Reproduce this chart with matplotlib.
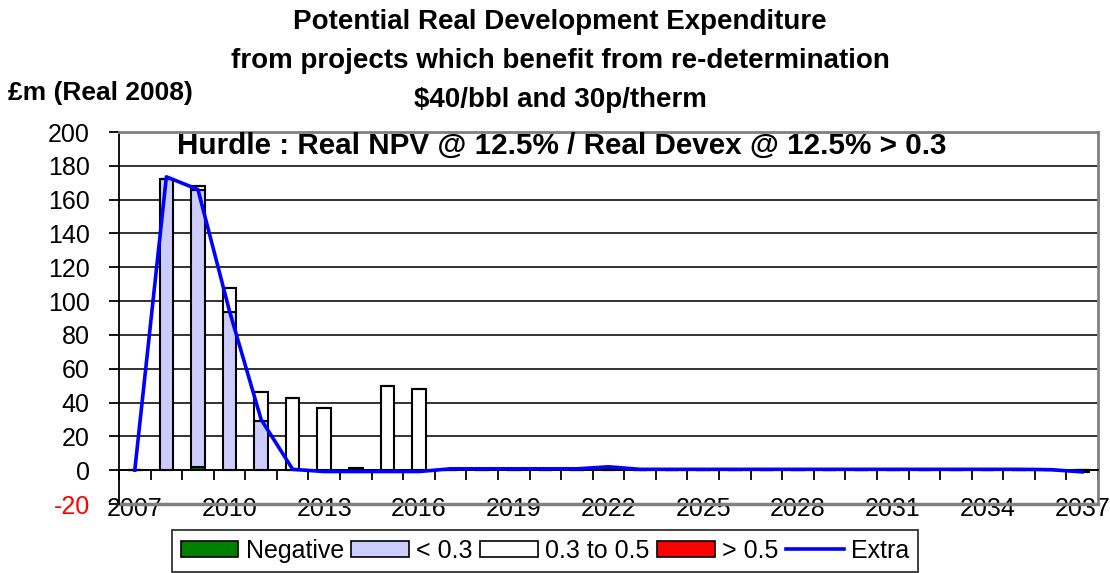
import numpy as np
import matplotlib
matplotlib.use("Agg")
import matplotlib.pyplot as plt
from matplotlib.patches import Patch
from matplotlib.lines import Line2D

plt.rcParams["font.family"] = ["Liberation Sans", "DejaVu Sans"]
plt.rcParams["axes.unicode_minus"] = False

# data (GBP m, real 2008)
years = list(range(2007, 2038))
negative = [0, 0, 2, 0, 0, 0, 0, 0, 0, 0,
            0, 0, 0, 0, 0, 0, 0, 0, 0, 0,
            0, 0, 0, 0, 0, 0, 0, 0, 0, 0, 0]
below_03 = [0, 172.5, 163.5, 93.3, 29.2, 0, 0, 0, 0, 0,
            0, 0, 0, 0, 0, 0, 0, 0, 0, 0,
            0, 0, 0, 0, 0, 0, 0, 0, 0, 0, 0]
mid_03_05 = [0, 0, 2.7, 14.4, 17, 42.4, 36.5, 1.2, 49.7, 48.3,
             0, 0, 0, 0, 0, 1.0, 0, 0, 0, 0,
             0, 0, 0, 0, 0, 0, 0, 0, 0, 0, -1]
above_05 = [0] * 31
extra = [0, 173.5, 166, 94, 30, 0.5, -0.8, -0.8, -0.8, -0.8,
         0.8, 0.8, 0.8, 0.8, 0.8, 2.0, 0.5, 0.5, 0.5, 0.5,
         0.5, 0.5, 0.5, 0.5, 0.5, 0.5, 0.5, 0.5, 0.5, 0.3, -1]
series_names = ["Negative", "< 0.3", "0.3 to 0.5", "> 0.5"]
series_colors = ["#008000", "#CCCCFF", "#FFFFFF", "#FF0000"]

fig = plt.figure(figsize=(11.1, 5.73), dpi=100)
ax = fig.add_axes([119 / 1110, 1 - 504 / 573, (1098 - 119) / 1110, (504 - 132) / 573])

x = np.arange(len(years))
bottom = np.zeros(len(years))
for vals, col in zip([negative, below_03, mid_03_05, above_05], series_colors):
    vals = np.array(vals, dtype=float)
    ax.bar(x, vals, width=0.43, bottom=np.where(vals >= 0, bottom, 0),
           color=col, edgecolor="black", linewidth=1.5, zorder=2)
    bottom = bottom + np.clip(vals, 0, None)

ax.plot(x, extra, color="#0000FF", lw=2.6, zorder=4)

ax.set_xlim(-0.5, len(years) - 0.5)
ax.set_ylim(-20, 200)
ax.set_yticks(range(-20, 201, 20))
ax.tick_params(axis="y", labelsize=18, length=7, width=1.3, direction="out", pad=14)
ax.get_yticklabels()[0].set_color("red")
ax.yaxis.grid(True, color="#222222", lw=1.3, zorder=0)
ax.set_axisbelow(True)

# category axis crosses at zero
ax.spines["bottom"].set_position(("data", 0))
ax.spines["bottom"].set_linewidth(1.3)
ax.set_xticks(x[::3])
ax.set_xticklabels([str(y) for y in years[::3]])
ax.set_xticks(np.arange(-0.5, len(years), 1), minor=True)
ax.tick_params(axis="x", which="major", length=0, labelsize=18, pad=19)
ax.tick_params(axis="x", which="minor", length=7, width=1.3, direction="out")

ax.spines["left"].set_linewidth(1.3)
for side in ["top", "right"]:
    ax.spines[side].set_color("#808080")
    ax.spines[side].set_linewidth(2)
ax.axhline(-20, color="#808080", lw=2.5, zorder=1, clip_on=False)

ax.text(0.4525, 0.962, "Hurdle : Real NPV @ 12.5% / Real Devex @ 12.5% > 0.3",
        transform=ax.transAxes, ha="center", va="center",
        fontsize=21.3, fontweight="bold")

fig.text(560 / 1110, 1 - 22 / 573, "Potential Real Development Expenditure",
         ha="center", va="center", fontsize=20, fontweight="bold")
fig.text(560 / 1110, 1 - 61 / 573, "from projects which benefit from re-determination",
         ha="center", va="center", fontsize=20, fontweight="bold")
fig.text(560 / 1110, 1 - 100 / 573, "$40/bbl and 30p/therm",
         ha="center", va="center", fontsize=20, fontweight="bold")
fig.text(8 / 1110, 1 - 93 / 573, "£m (Real 2008)",
         ha="left", va="center", fontsize=19, fontweight="bold")

handles = [Patch(facecolor=c, edgecolor="black", linewidth=1.2) for c in series_colors]
handles.append(Line2D([], [], color="#0000FF", lw=2.6))
leg = fig.legend(handles, series_names + ["Extra"], loc="upper center",
                 bbox_to_anchor=(545 / 1110, 1 - 530 / 573), ncol=5,
                 fontsize=18, frameon=True, fancybox=False, edgecolor="black",
                 handlelength=2.3, handleheight=0.65, handletextpad=0.3,
                 columnspacing=0.3, borderpad=0.35, borderaxespad=0)
leg.get_frame().set_linewidth(1.3)

fig.savefig("out.png", dpi=100)
